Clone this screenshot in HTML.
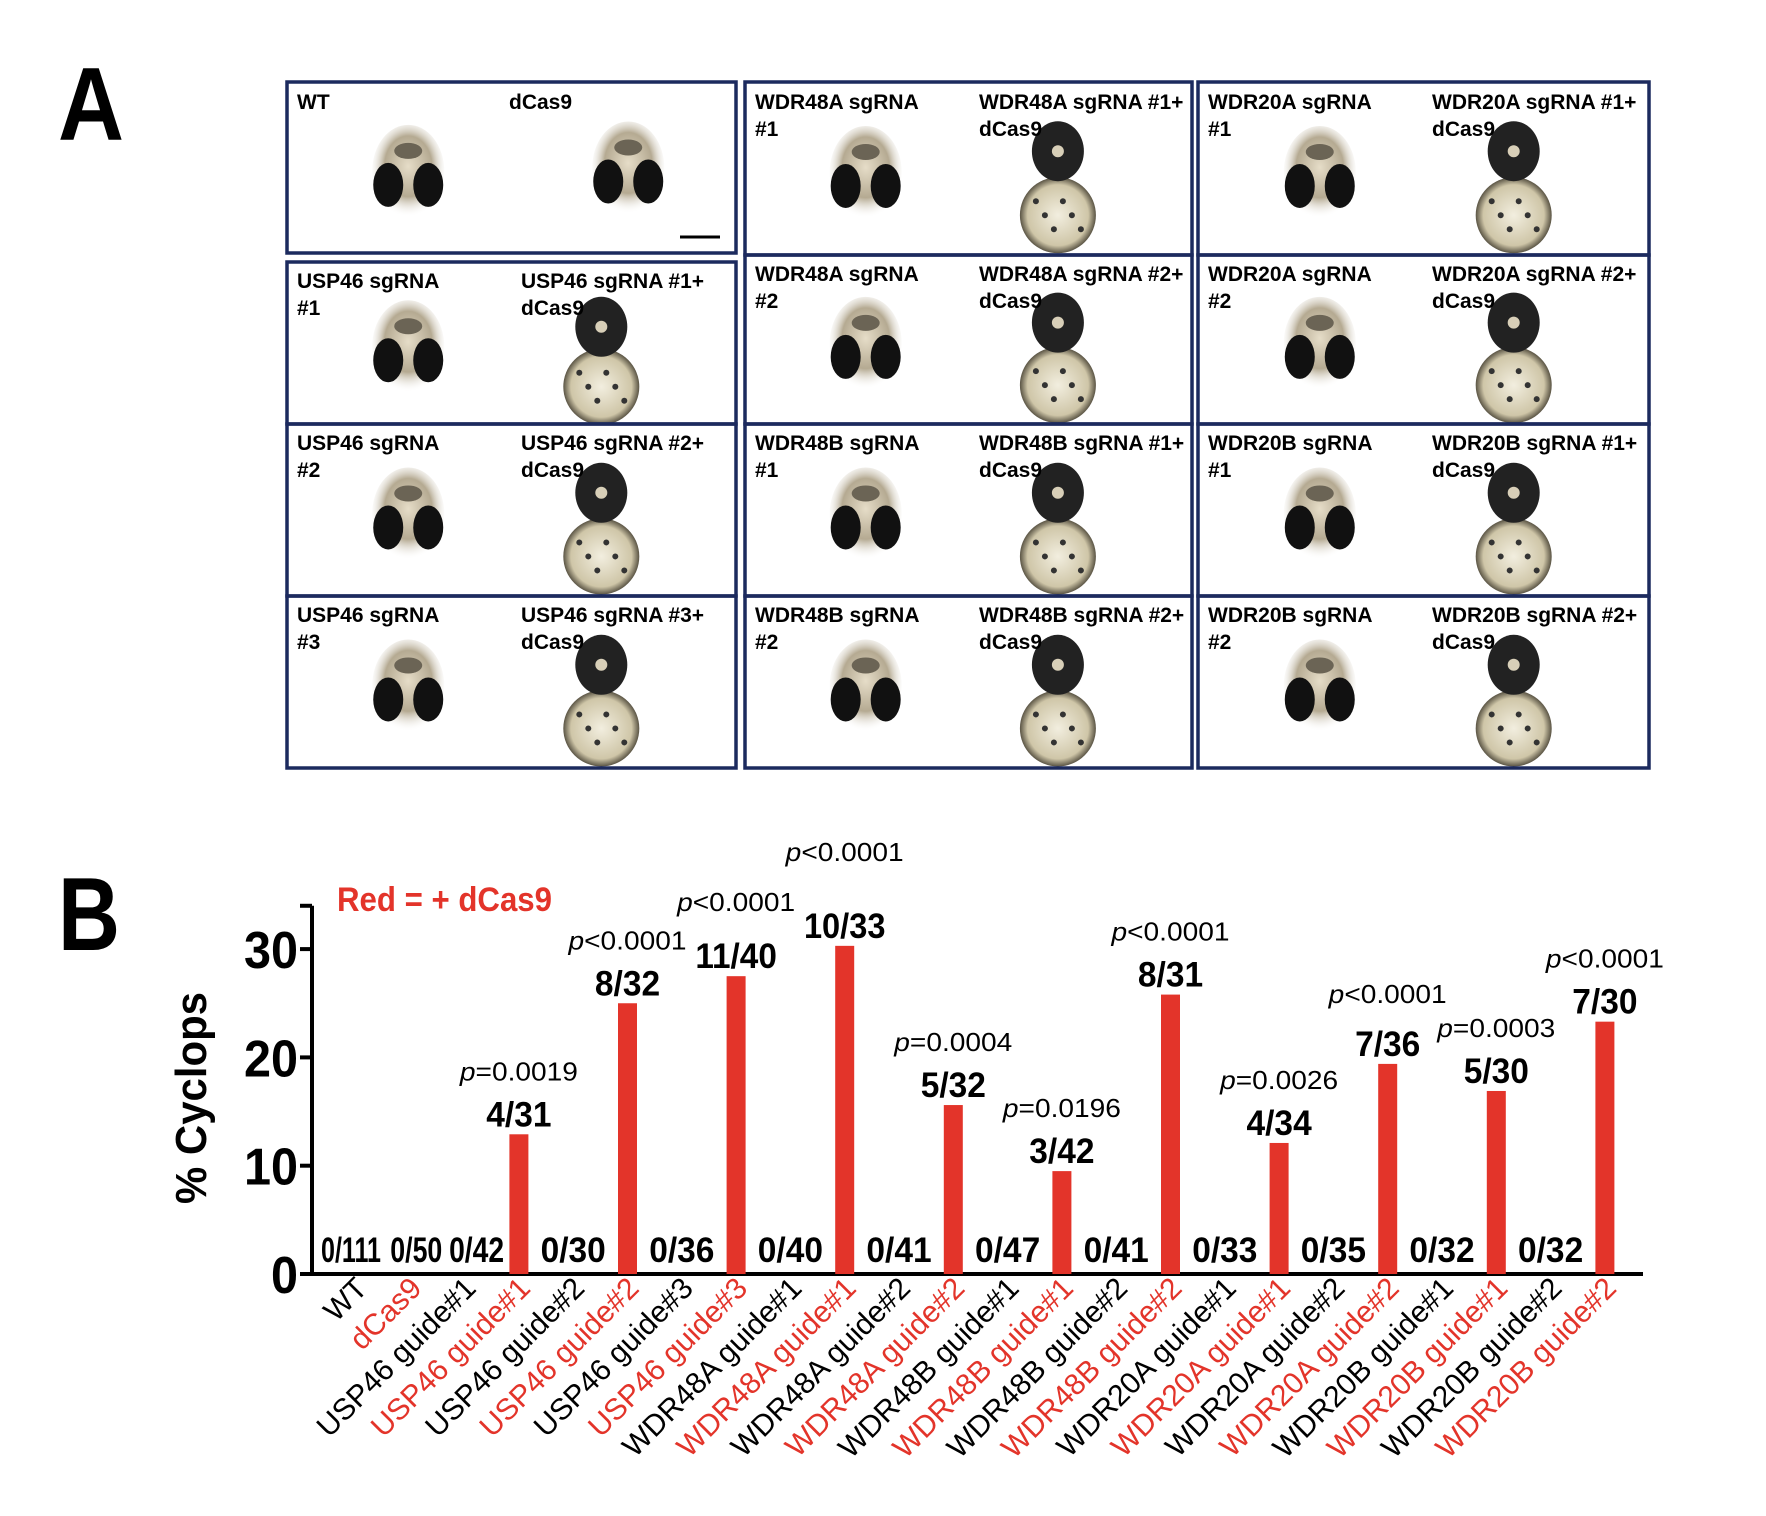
<!DOCTYPE html>
<html><head><meta charset="utf-8"><style>
html,body{margin:0;padding:0;background:#fff;}
svg{display:block;}
.lab{font-family:"Liberation Sans",sans-serif;font-weight:bold;font-size:21px;fill:#000;}
</style></head><body>
<svg id="fig" width="1766" height="1516" viewBox="0 0 1766 1516" xmlns="http://www.w3.org/2000/svg">
<defs>
<radialGradient id="head" cx="50%" cy="45%" r="55%"><stop offset="0" stop-color="#e6ddc8"/><stop offset="0.6" stop-color="#b5aa92"/><stop offset="1" stop-color="#ffffff" stop-opacity="0"/></radialGradient>
<radialGradient id="yolk" cx="50%" cy="50%" r="50%"><stop offset="0" stop-color="#f2eedf"/><stop offset="0.8" stop-color="#cfc6a8"/><stop offset="1" stop-color="#5a5444"/></radialGradient>
</defs>
<text x="58" y="140" font-family="Liberation Sans, sans-serif" font-weight="bold" font-size="104" textLength="66" lengthAdjust="spacingAndGlyphs">A</text>
<g id="panelA"></g>
<text x="58" y="950" font-family="Liberation Sans, sans-serif" font-weight="bold" font-size="104" textLength="62" lengthAdjust="spacingAndGlyphs">B</text>
<g id="chart"></g>
</svg>
<script>
// ---------- chart data ----------
const categories = ["WT","dCas9","USP46 guide#1","USP46 guide#1","USP46 guide#2","USP46 guide#2","USP46 guide#3","USP46 guide#3","WDR48A guide#1","WDR48A guide#1","WDR48A guide#2","WDR48A guide#2","WDR48B guide#1","WDR48B guide#1","WDR48B guide#2","WDR48B guide#2","WDR20A guide#1","WDR20A guide#1","WDR20A guide#2","WDR20A guide#2","WDR20B guide#1","WDR20B guide#1","WDR20B guide#2","WDR20B guide#2"];
const withDCas9 = [0,1,0,1,0,1,0,1,0,1,0,1,0,1,0,1,0,1,0,1,0,1,0,1];
const pctCyclops = [0,0,0,12.9,0,25,0,27.5,0,30.3,0,15.6,0,9.5,0,25.8,0,12.1,0,19.4,0,16.9,0,23.3];
const fractions = ["0/111","0/50","0/42","4/31","0/30","8/32","0/36","11/40","0/40","10/33","0/41","5/32","0/47","3/42","0/41","8/31","0/33","4/34","0/35","7/36","0/32","5/30","0/32","7/30"];
const pValues = ["","","","=0.0019","","<0.0001","","<0.0001","","<0.0001","","=0.0004","","=0.0196","","<0.0001","","=0.0026","","<0.0001","","=0.0003","","<0.0001"];
const yTicks = [0,10,20,30];

const NS="http://www.w3.org/2000/svg";
function mk(tag,attrs,parent,text){const e=document.createElementNS(NS,tag);for(const k in attrs)e.setAttribute(k,attrs[k]);if(text!==undefined)e.textContent=text;parent.appendChild(e);return e;}
const RED="#e3342a";
const chart=document.getElementById('chart');
const x0=356, step=54.3, barW=19, yZero=1274, pxPerUnit=10.83, axisX=312, axisEnd=1643;
const xs=i=>x0+i*step;
const ys=v=>yZero-v*pxPerUnit;
const SANS="Liberation Sans, sans-serif";

// axes
let ax=mk('line',{x1:axisX,y1:ys(34),x2:axisX,y2:yZero+2,stroke:'#000','stroke-width':4},chart);


let bx=mk('line',{x1:axisX-2,y1:yZero,x2:axisEnd,y2:yZero,stroke:'#000','stroke-width':4},chart);


let tt=mk('line',{x1:axisX-12,y1:ys(34),x2:axisX,y2:ys(34),stroke:'#000','stroke-width':4},chart);


yTicks.forEach(v=>{
  const t=mk('line',{x1:axisX-12,y1:ys(v),x2:axisX,y2:ys(v),stroke:'#000','stroke-width':4},chart);
  
  
  const s=String(v);
  const l=mk('text',{x:axisX-14,y:ys(v)+19,'text-anchor':'end','font-family':SANS,'font-weight':'bold','font-size':52,textLength:s.length*27,lengthAdjust:'spacingAndGlyphs'},chart,s);
  
  
});
const yt=mk('text',{x:0,y:0,transform:'translate(206,1098) rotate(-90)','text-anchor':'middle','font-family':SANS,'font-weight':'bold','font-size':44,textLength:212,lengthAdjust:'spacingAndGlyphs'},chart,'% Cyclops');


const lg=mk('text',{x:337,y:911,'font-family':SANS,'font-weight':'bold','font-size':34,fill:RED,textLength:215,lengthAdjust:'spacingAndGlyphs'},chart,'Red = + dCas9');



const firstShift=[-5,6,12];
categories.forEach((c,i)=>{
  const cx=xs(i), v=pctCyclops[i];
  if(v>0){
    const r=mk('rect',{x:cx-barW/2,y:ys(v),width:barW,height:yZero-ys(v),fill:RED},chart);
    
    
  }
  const top = v>0 ? ys(v)-8 : yZero-12;
  const s=fractions[i];
  let tl=s.length*16.3;
  let fx=cx;
  if(i<3){tl=[60,52,55][i]; fx=cx+firstShift[i];}
  const f=mk('text',{x:fx,y:top,'text-anchor':'middle','font-family':SANS,'font-weight':'bold','font-size':35,textLength:tl,lengthAdjust:'spacingAndGlyphs'},chart,s);
  
  
  if(pValues[i]){
    let lift=46; if(s==="10/33")lift=77; if(s==="11/40")lift=57; if(s==="7/36")lift=53;
    const p=mk('text',{x:cx,y:top-lift,'text-anchor':'middle','font-family':SANS,'font-size':26,textLength:118,lengthAdjust:'spacingAndGlyphs'},chart);
    
    
    mk('tspan',{'font-style':'italic'},p,'p');
    mk('tspan',{},p,pValues[i]);
  }
  const xl=mk('text',{x:0,y:0,transform:`translate(${cx+13},1290) rotate(-45)`,'text-anchor':'end','font-family':SANS,'font-size':30,fill:withDCas9[i]?RED:'#000'},chart,c);
  
  
});

// ---------- panel A ----------
const A=document.getElementById('panelA');
const cols=[[287,736],[745,1192],[1198,1649]];
const rowsB=[82,255,424,596,768];
const cells=[
 [["WT",""],["dCas9",""]],
 [["USP46 sgRNA","#1"],["USP46 sgRNA #1+","dCas9"]],
 [["USP46 sgRNA","#2"],["USP46 sgRNA #2+","dCas9"]],
 [["USP46 sgRNA","#3"],["USP46 sgRNA #3+","dCas9"]],
 [["WDR48A sgRNA","#1"],["WDR48A sgRNA #1+","dCas9"]],
 [["WDR48A sgRNA","#2"],["WDR48A sgRNA #2+","dCas9"]],
 [["WDR48B sgRNA","#1"],["WDR48B sgRNA #1+","dCas9"]],
 [["WDR48B sgRNA","#2"],["WDR48B sgRNA #2+","dCas9"]],
 [["WDR20A sgRNA","#1"],["WDR20A sgRNA #1+","dCas9"]],
 [["WDR20A sgRNA","#2"],["WDR20A sgRNA #2+","dCas9"]],
 [["WDR20B sgRNA","#1"],["WDR20B sgRNA #1+","dCas9"]],
 [["WDR20B sgRNA","#2"],["WDR20B sgRNA #2+","dCas9"]]
];
function normalEmbryo(g,cx,cy){
  mk('ellipse',{cx:cx,cy:cy,rx:36,ry:46,fill:'url(#head)'},g);
  mk('ellipse',{cx:cx-20,cy:cy+14,rx:15,ry:22,fill:'#111'},g);
  mk('ellipse',{cx:cx+20,cy:cy+14,rx:15,ry:22,fill:'#111'},g);
  mk('ellipse',{cx:cx,cy:cy-20,rx:14,ry:8,fill:'#6b6455'},g);
}
function cyclopsEmbryo(g,cx,cy,h){
  mk('circle',{cx:cx,cy:cy+h*0.32,r:38,fill:'url(#yolk)'},g);
  mk('ellipse',{cx:cx,cy:cy-h*0.05,rx:26,ry:30,fill:'#222'},g);
  mk('circle',{cx:cx,cy:cy-h*0.05,r:6,fill:'#d8cfb8'},g);
  for(let k=0;k<6;k++){mk('circle',{cx:cx-22+k*9,cy:cy+h*0.32+((k%3)-1)*14,r:3,fill:'#333'},g);}
}
cells.forEach((cell,n)=>{
  const c=Math.floor(n/4), r=n%4;
  const [l,rgt]=cols[c];
  let t=rowsB[r], b=rowsB[r+1];
  if(c===0&&r===0)b=253; if(c===0&&r===1)t=262;
  const g=mk('g',{},A);
  
  
  const w=rgt-l, h=b-t;
  normalEmbryo(g,l+w*0.27,t+h*0.52);
  if(n===0) normalEmbryo(g,l+w*0.76,t+h*0.5);
  else cyclopsEmbryo(g,l+w*0.7,t+h*0.45,h);
  mk('rect',{x:l,y:t,width:w,height:h,fill:'none',stroke:'#1c2a5e','stroke-width':3.5},g);
  const lx=l+10, base=t+(r===0?27:26);
  mk('text',{x:lx,y:base,class:'lab'},g,cell[0][0]);
  if(cell[0][1]) mk('text',{x:lx,y:base+27,class:'lab'},g,cell[0][1]);
  const rx=l+(n===0?222:234);
  mk('text',{x:rx,y:base,class:'lab'},g,cell[1][0]);
  if(cell[1][1]) mk('text',{x:rx,y:base+27,class:'lab'},g,cell[1][1]);
  if(n===0){
    const sb=mk('line',{x1:680,y1:237,x2:720,y2:237,stroke:'#000','stroke-width':3},g);
    
    
  }
});
</script>
</body></html>
